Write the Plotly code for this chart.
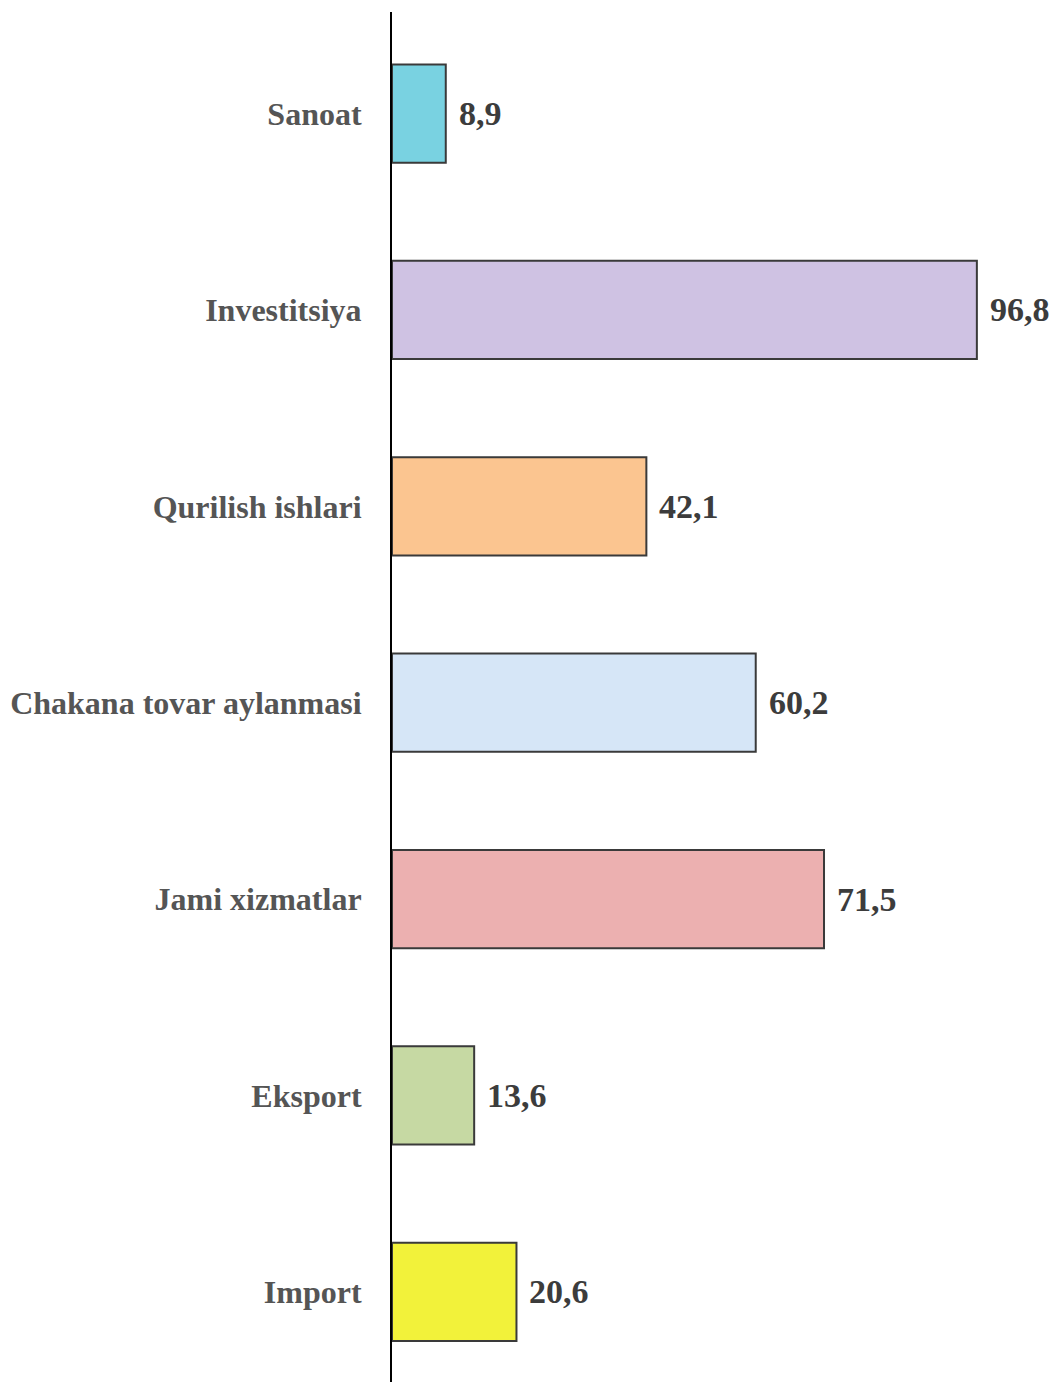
import plotly.graph_objects as go

categories = ["Sanoat", "Investitsiya", "Qurilish ishlari", "Chakana tovar aylanmasi",
              "Jami xizmatlar", "Eksport", "Import"]
values = [8.9, 96.8, 42.1, 60.2, 71.5, 13.6, 20.6]
value_labels = ["8,9", "96,8", "42,1", "60,2", "71,5", "13,6", "20,6"]
bar_colors = ["#79d2e1", "#cfc2e3", "#fbc590", "#d6e6f7", "#ecb0b0", "#c6d9a3", "#f2f23a"]

label_color = "#555555"
value_color = "#3c3c3c"
font_family = "Liberation Serif, Times New Roman, serif"

fig = go.Figure()
fig.add_trace(go.Bar(
    y=categories,
    x=values,
    orientation="h",
    width=0.5,
    marker=dict(color=bar_colors, line=dict(color="#3a3a3a", width=2)),
    hoverinfo="skip",
))

for cat, val, lab in zip(categories, values, value_labels):
    fig.add_annotation(
        x=val, y=cat, text=f"<b>{lab}</b>", showarrow=False,
        xanchor="left", yanchor="middle", xshift=11,
        font=dict(family=font_family, size=34, color=value_color),
    )

fig.update_layout(
    width=1053, height=1382,
    margin=dict(l=392, r=0, t=12, b=0),
    paper_bgcolor="white", plot_bgcolor="white",
    showlegend=False,
    xaxis=dict(range=[0, 109.4], visible=False, fixedrange=True),
    yaxis=dict(
        range=[6.459, -0.517],
        tickmode="array", tickvals=categories,
        ticktext=[f"<b>{c}</b>" for c in categories],
        tickfont=dict(family=font_family, size=32, color=label_color),
        showline=True, linecolor="black", linewidth=2,
        ticks="", ticklabelstandoff=22, showgrid=False, zeroline=False,
        fixedrange=True,
    ),
)

fig.write_html(
    "out.html",
    config={"displayModeBar": False},
    post_script="document.body.style.margin='0';document.body.style.overflow='hidden';",
)
